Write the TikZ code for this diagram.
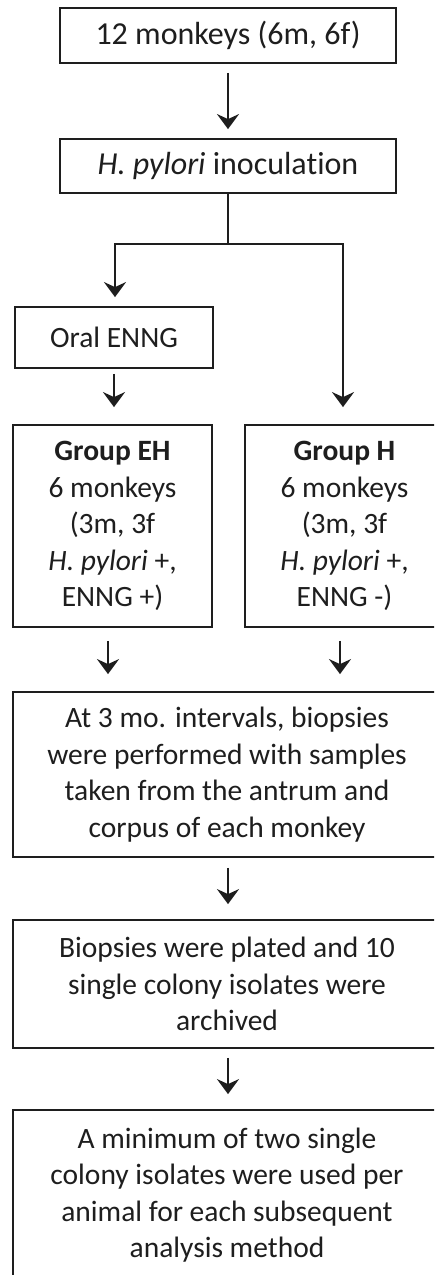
\documentclass[tikz,border=0pt]{standalone}
\usepackage{fontspec}
\setmainfont{Carlito}[Ligatures=NoCommon]
\usetikzlibrary{arrows.meta}
\definecolor{ink}{HTML}{1E1E1E}
\tikzset{
  box/.style={draw=ink, line width=1.8pt, inner sep=0pt, align=center, text=ink,
    font=\fontsize{29.5}{36.5}\selectfont},
  bigtext/.style={font=\fontsize{32}{38}\selectfont},
  flow/.style={draw=ink, line width=2.6pt, -{Stealth[length=15pt,width=22pt,inset=5pt]}},
  plain/.style={draw=ink, line width=2.6pt}
}
\begin{document}
\begin{tikzpicture}[x=1pt,y=-1pt]
\useasboundingbox (0,0) rectangle (434,1275);
\clip (0,0) rectangle (434,1275);
\fill[white] (0,0) rectangle (434,1275);

\node[box, bigtext, minimum width=336pt, minimum height=55pt] (b1) at (228,35.5) {12 monkeys (6m, 6f)};
\node[box, bigtext, minimum width=336pt, minimum height=54pt] (b2) at (228,166) {\textit{H. pylori} inoculation};
\node[box, minimum width=198pt, minimum height=61pt] (oral) at (114,337.5) {Oral ENNG};
\node[box, minimum width=199pt, minimum height=202pt] (eh) at (112.5,526)
  {\textbf{Group EH}\\6 monkeys\\(3m, 3f\\\textit{H. pylori} +,\\ENNG +)};
\node[box, minimum width=199pt, minimum height=202pt] (gh) at (344.5,526)
  {\textbf{Group H}\\6 monkeys\\(3m, 3f\\\textit{H. pylori} +,\\ENNG -)};
\node[box, minimum width=428pt, minimum height=165pt] (big1) at (227,774.5)
  {At 3 mo. intervals, biopsies\\were performed with samples\\taken from the antrum and\\corpus of each monkey};
\node[box, minimum width=428pt, minimum height=128pt] (big2) at (227,984)
  {Biopsies were plated and 10\\single colony isolates were\\archived};
\node[box, minimum width=428pt, minimum height=170pt] (big3) at (227,1195)
  {A minimum of two single\\colony isolates were used per\\animal for each subsequent\\analysis method};

\coordinate (jl) at (115,244);
\coordinate (jr) at (343,244);
\coordinate (jc) at (b2.south |- jl);

\path[flow, shorten <=9pt, shorten >=9pt] (b1) -- (b2);
\path[plain] (b2.south) -- (jc);
\path[plain, line cap=rect] (jl) -- (jr);
\path[flow, shorten >=9pt] (jl) -- (jl |- oral.north);
\path[flow, shorten >=17pt] (jr) -- (jr |- gh.north);
\path[flow, shorten <=5pt, shorten >=17pt] (oral.south) -- (oral.south |- eh.north);
\path[flow, shorten <=13pt, shorten >=17pt] ([xshift=-4.5pt]eh.south) -- ([xshift=-4.5pt]eh.south |- big1.north);
\path[flow, shorten <=13pt, shorten >=17pt] ([xshift=-4.5pt]gh.south) -- ([xshift=-4.5pt]gh.south |- big1.north);
\path[flow, shorten <=10pt, shorten >=15pt] ([xshift=1pt]big1.south) -- ([xshift=1pt]big1.south |- big2.north);
\path[flow, shorten <=9pt, shorten >=15pt] ([xshift=1pt]big2.south) -- ([xshift=1pt]big2.south |- big3.north);
\end{tikzpicture}
\end{document}
